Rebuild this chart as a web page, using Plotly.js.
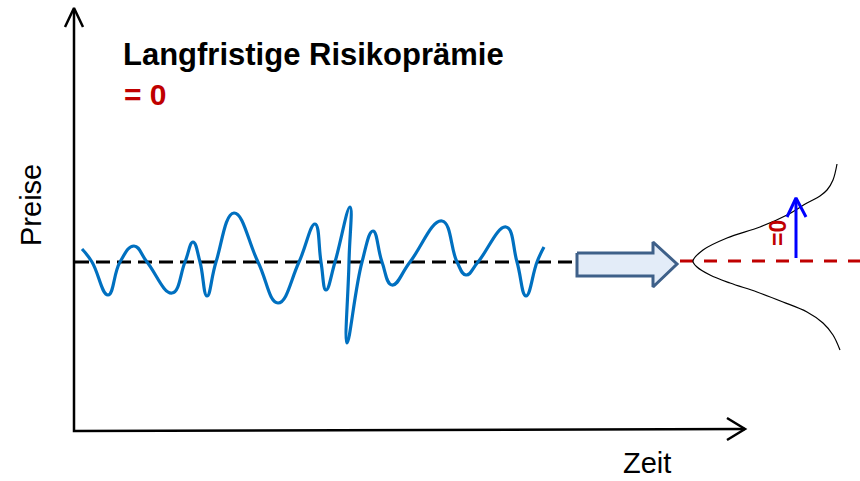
<!DOCTYPE html>
<html>
<head>
<meta charset="utf-8">
<script src="https://cdn.plot.ly/plotly-3.0.1.min.js"></script>
<style>html,body{margin:0;padding:0;background:#fff;}#chart{width:860px;height:481px;}</style>
</head>
<body>
<div id="chart"></div>
<script>
// Price wave (schematic) (canvas pixel units)
const waveX = [82, 92, 108, 120, 134, 147, 172, 185, 193, 200, 207, 216, 234, 258, 278, 299, 315, 321, 326, 335, 350, 349, 347, 362, 373, 382, 392, 410, 442, 457, 466, 478, 506, 517, 526, 537, 544];
const waveY = [249, 262, 295, 262, 246, 262, 293, 262, 242, 262, 296, 262, 213, 262, 303, 262, 224, 262, 290, 262, 207, 262, 343, 262, 231, 262, 285, 262, 221, 262, 275, 262, 227, 262, 296, 262, 247];

// Mean level (black dashed) and long-run level (red dashed)
const meanX = [75, 574];
const meanY = [262, 262];
const longRunX = [680, 860];
const longRunY = [261, 261];

// Sideways bell curve (distribution)
const bellX = [837, 833, 827, 820, 807, 787, 760, 727, 703, 693, 697, 710, 730, 757, 783, 807, 823, 833, 840];
const bellY = [164, 180, 190, 196, 203, 215, 227, 238, 250, 261, 267, 275, 283, 292, 302, 312, 323, 335, 350];

// Axes with open arrow heads
const axisX = [74, 74, 745];
const axisY = [10, 431, 429];
const yHeadX = [65, 74, 83];
const yHeadY = [27, 8, 27];
const xHeadX = [727, 745, 727];
const xHeadY = [418, 429, 440];

// Block arrow
const blockX = [577, 653, 653, 677, 653, 653, 577, 577];
const blockY = [253, 253, 242, 264, 287, 276, 276, 253];

// Blue up arrow (zero premium)
const upX = [796, 796];
const upY = [258, 200];
const upHeadX = [787, 796, 806];
const upHeadY = [217, 198, 217];

const labels = {
  title: "Langfristige Risikoprämie",
  sub: "= 0",
  yTitle: "Preise",
  xTitle: "Zeit",
  eq: "=0"
};

const F = "Liberation Sans, Arial, sans-serif";

const traces = [
  {x: blockX, y: blockY, mode: "lines", fill: "toself", fillcolor: "#E3ECF8",
   line: {color: "#3E6089", width: 3}},
  {x: meanX, y: meanY, mode: "lines", line: {color: "#000000", width: 3, dash: "14px,7px"}},
  {x: longRunX, y: longRunY, mode: "lines", line: {color: "#C00000", width: 3, dash: "13px,11px"}},
  {x: waveX, y: waveY, mode: "lines", line: {color: "#0070C0", width: 3.2, shape: "spline", smoothing: 1.3}},
  {x: bellX, y: bellY, mode: "lines", line: {color: "#000000", width: 1.2, shape: "spline", smoothing: 1}},
  {x: axisX, y: axisY, mode: "lines", line: {color: "#000000", width: 2.5}},
  {x: yHeadX, y: yHeadY, mode: "lines", line: {color: "#000000", width: 2.5}},
  {x: xHeadX, y: xHeadY, mode: "lines", line: {color: "#000000", width: 2.5}},
  {x: upX, y: upY, mode: "lines", line: {color: "#0000FF", width: 3}},
  {x: upHeadX, y: upHeadY, mode: "lines", line: {color: "#0000FF", width: 3}}
].map(t => Object.assign({type: "scatter", hoverinfo: "skip"}, t));

const layout = {
  width: 860, height: 481,
  margin: {l: 0, r: 0, t: 0, b: 0},
  paper_bgcolor: "#ffffff", plot_bgcolor: "#ffffff",
  showlegend: false,
  xaxis: {range: [0, 860], visible: false, fixedrange: true},
  yaxis: {range: [481, 0], visible: false, fixedrange: true},
  annotations: [
    {x: 121, y: 54, xref: "x", yref: "y", text: labels.title, showarrow: false, xanchor: "left", yanchor: "middle",
     font: {family: F, size: 31, color: "#000000", weight: "bold"}},
    {x: 122, y: 94, xref: "x", yref: "y", text: labels.sub, showarrow: false, xanchor: "left", yanchor: "middle",
     font: {family: F, size: 30, color: "#C00000", weight: "bold"}},
    {x: 31, y: 205, xref: "x", yref: "y", text: labels.yTitle, showarrow: false, textangle: -90,
     font: {family: F, size: 29, color: "#000000"}},
    {x: 647, y: 463, xref: "x", yref: "y", text: labels.xTitle, showarrow: false,
     font: {family: F, size: 29, color: "#000000"}},
    {x: 778, y: 233, xref: "x", yref: "y", text: labels.eq, showarrow: false, textangle: -90,
     font: {family: F, size: 23, color: "#C00000", weight: "bold"}}
  ]
};

Plotly.newPlot("chart", traces, layout, {displayModeBar: false, staticPlot: true});
</script>
</body>
</html>
